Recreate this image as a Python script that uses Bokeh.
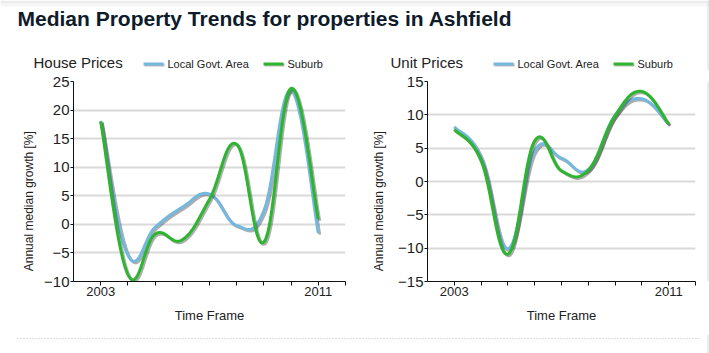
import numpy as np
from bokeh.plotting import figure
from bokeh.models import Range1d, FixedTicker, Label
from bokeh.layouts import column, row
from bokeh.embed import file_html
from bokeh.resources import INLINE

# ---------------- data ----------------
years = [2003, 2004, 2005, 2006, 2007, 2008, 2009, 2010, 2011]
house_lga = [18.1, -5.4, -0.5, 3.0, 5.3, -0.2, 2.4, 23.4, -1.5]
house_suburb = [18.0, -8.8, -1.7, -2.7, 4.4, 14.0, -3.1, 23.8, 0.9]
unit_lga = [8.2, 3.6, -10.1, 4.6, 3.5, 1.8, 9.9, 12.4, 8.6]
unit_suburb = [7.8, 3.1, -10.9, 6.1, 1.6, 1.7, 9.9, 13.5, 8.6]

x_tick_years = [2003, 2004, 2005, 2006, 2007, 2008, 2009, 2010, 2011, 2012]
x_labelled = [2003, 2011]
house_y_ticks = [-10, -5, 0, 5, 10, 15, 20, 25]
unit_y_ticks = [-15, -10, -5, 0, 5, 10, 15]

main_title = "Median Property Trends for properties in Ashfield"
panel_titles = ["House Prices", "Unit Prices"]
series_names = ["Local Govt. Area", "Suburb"]
y_label = "Annual median growth [%]"
x_label = "Time Frame"

FONT = "Liberation Sans"
BLUE = "#74b8df"
GREEN = "#2db52f"
TEXT = "#222222"
EDGE = "#d8d8d8"


def cardinal_spline(xs, ys, tension=0.6, n=30):
    x = np.asarray(xs, float)
    y = np.asarray(ys, float)
    px = np.concatenate([[x[0]], x, [x[-1]]])
    py = np.concatenate([[y[0]], y, [y[-1]]])
    t = np.linspace(0, 1, n)
    b0, b1, b2, b3 = (1 - t) ** 3, 3 * (1 - t) ** 2 * t, 3 * (1 - t) * t ** 2, t ** 3
    ox, oy = [], []
    k = tension / 3.0
    for i in range(len(x) - 1):
        p0x, p1x, p2x, p3x = px[i], px[i + 1], px[i + 2], px[i + 3]
        p0y, p1y, p2y, p3y = py[i], py[i + 1], py[i + 2], py[i + 3]
        c1x, c1y = p1x + k * (p2x - p0x), p1y + k * (p2y - p0y)
        c2x, c2y = p2x - k * (p3x - p1x), p2y - k * (p3y - p1y)
        sx = b0 * p1x + b1 * c1x + b2 * c2x + b3 * p2x
        sy = b0 * p1y + b1 * c1y + b2 * c2y + b3 * p2y
        if i > 0:
            sx, sy = sx[1:], sy[1:]
        ox.extend(sx)
        oy.extend(sy)
    return np.array(ox), np.array(oy)


def strip(width, height):
    """A plain drawing strip whose data units are pixels (y measured from its bottom)."""
    s = figure(width=width, height=height, x_range=Range1d(0, width),
               y_range=Range1d(0, height), x_axis_type=None, y_axis_type=None,
               title=None, output_backend="svg", toolbar_location=None, min_border=0)
    s.outline_line_color = None
    s.grid.visible = False
    s.background_fill_color = "white"
    s.border_fill_color = "white"
    return s


PANEL_H = 264


def make_panel(lga, sub, yticks, width, border_left, border_right):
    ymin, ymax = yticks[0], yticks[-1]
    xmin, xmax = 2002, 2012
    p = figure(width=width, height=PANEL_H, x_range=Range1d(xmin, xmax),
               y_range=Range1d(ymin, ymax), output_backend="svg", title=None,
               toolbar_location=None, min_border_left=border_left,
               min_border_right=border_right, min_border_top=11,
               min_border_bottom=53)
    p.outline_line_color = None
    p.background_fill_color = "white"
    p.border_fill_color = "white"
    p.xgrid.visible = False
    p.ygrid.grid_line_color = "#d9d9d9"
    p.ygrid.grid_line_width = 2

    p.yaxis.ticker = FixedTicker(ticks=yticks)
    p.xaxis.ticker = FixedTicker(ticks=x_tick_years)
    p.xaxis.major_label_overrides = {yr: ("" if yr not in x_labelled else str(yr))
                                     for yr in x_tick_years}
    for ax in (p.xaxis[0], p.yaxis[0]):
        ax.axis_line_color = "#111111"
        ax.major_tick_line_color = "#111111"
        ax.minor_tick_line_color = None
        ax.major_tick_in = 0
        ax.major_label_text_font = FONT
        ax.major_label_text_color = TEXT
    p.yaxis.major_tick_out = 3
    p.xaxis.major_tick_out = 4
    p.yaxis.major_label_text_font_size = "15px"
    p.yaxis.major_label_standoff = 1
    p.xaxis.major_label_text_font_size = "13px"
    p.xaxis.major_label_standoff = 1
    p.xaxis.axis_label = x_label
    p.xaxis.axis_label_text_font = FONT
    p.xaxis.axis_label_text_font_size = "13px"
    p.xaxis.axis_label_text_font_style = "normal"
    p.xaxis.axis_label_text_color = TEXT
    p.xaxis.axis_label_standoff = 9

    frame_w = width - border_left - border_right
    dx = 1.5 * (xmax - xmin) / frame_w
    dy = 1.5 * (ymax - ymin) / 200.0

    for vals, col in ((lga, BLUE), (sub, GREEN)):
        sx, sy = cardinal_spline(years, vals)
        p.line(sx + dx, sy - dy, line_color="#333333", line_alpha=0.4, line_width=3)
        p.line(sx, sy, line_color=col, line_width=3)
    return p


p1 = make_panel(house_lga, house_suburb, house_y_ticks, 325, 33, 20)
p2 = make_panel(unit_lga, unit_suburb, unit_y_ticks, 311, 28, 11)

# y-axis label strips
label_strips = []
for w, cx in ((40, 28), (30, 13)):
    s = strip(w, PANEL_H)
    s.add_layout(Label(x=cx, y=PANEL_H - 158, text=y_label, angle=np.pi / 2,
                       text_align="center", text_baseline="middle", text_font=FONT,
                       text_font_size="12px", text_color=TEXT))
    label_strips.append(s)
yl1, yl2 = label_strips

# right edge strip (thin grey border of the page box)
rs = strip(3, PANEL_H)
rs.line([1.5, 1.5], [0, PANEL_H], line_color=EDGE, line_width=1)

# top strip: main title, panel titles and legends
TOP_H = 70
pt = strip(709, TOP_H)
pt.quad(left=0, right=709, bottom=TOP_H - 3, top=TOP_H, fill_color="#ececec", line_color=None)
pt.quad(left=0, right=709, bottom=TOP_H - 6, top=TOP_H - 3, fill_color="#f6f6f6", line_color=None)
pt.line([707.5, 707.5], [0, TOP_H], line_color=EDGE, line_width=1)
pt.add_layout(Label(x=17, y=TOP_H - 18, text=main_title, text_font=FONT,
                    text_font_size="21px", text_font_style="bold", text_color="#0d1b2a",
                    text_baseline="middle"))
for x0, ttl in zip((33, 390), panel_titles):
    pt.add_layout(Label(x=x0, y=TOP_H - 61.5, text=ttl, text_font=FONT,
                        text_font_size="15px", text_color=TEXT, text_baseline="middle"))
for base in (143, 493):
    for off, name, col in ((0, series_names[0], BLUE), (120, series_names[1], GREEN)):
        gx = base + off
        pt.line([gx + 1, gx + 21], [TOP_H - 64.5, TOP_H - 64.5], line_color="#555555",
                line_alpha=0.4, line_width=3)
        pt.line([gx, gx + 20], [TOP_H - 63.5, TOP_H - 63.5], line_color=col, line_width=3)
        pt.add_layout(Label(x=gx + 24, y=TOP_H - 63, text=name, text_font=FONT,
                            text_font_size="11px", text_color=TEXT,
                            text_baseline="middle"))

# bottom strip with dotted separator
pb = strip(709, 19)
pb.line([17, 700], [15, 15], line_color="#bbbbbb", line_width=1, line_dash="1 2")
pb.line([707.5, 707.5], [0, 19], line_color=EDGE, line_width=1)

layout = column(pt, row(yl1, p1, yl2, p2, rs), pb)
open("out.html", "w").write(file_html(layout, INLINE))
